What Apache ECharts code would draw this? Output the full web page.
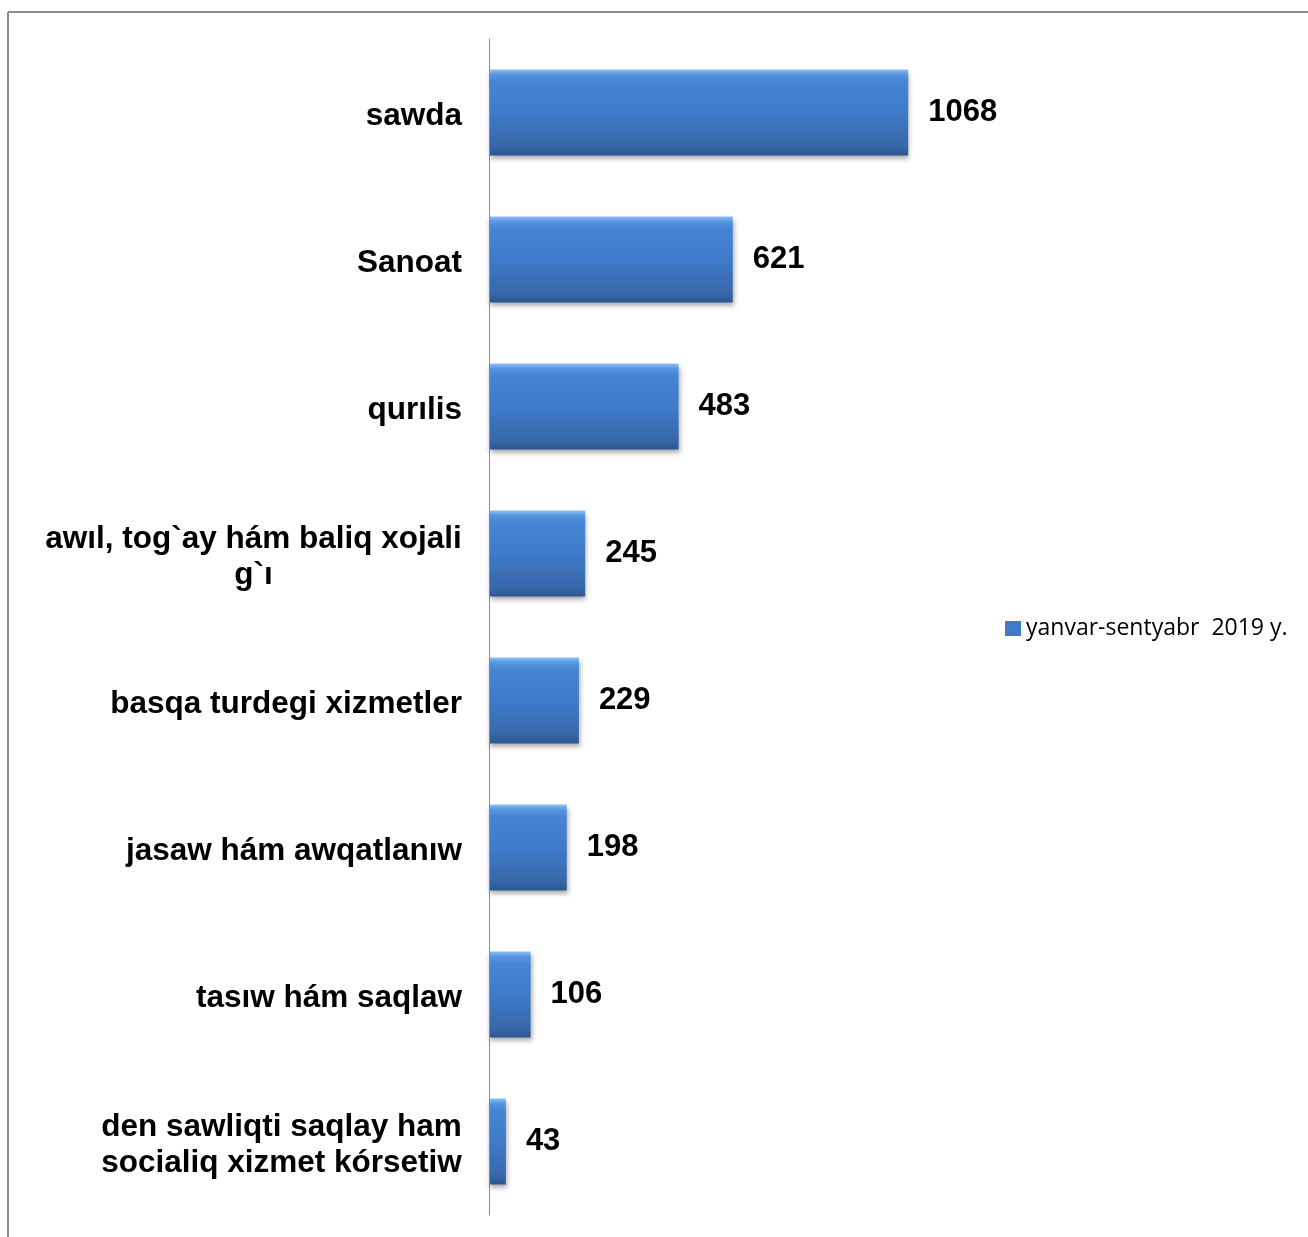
<!DOCTYPE html>
<html>
<head>
<meta charset="utf-8">
<script src="https://cdn.jsdelivr.net/npm/echarts@6/dist/echarts.min.js"></script>
<style>
html,body{margin:0;padding:0;background:#fff;}
#chart{width:1308px;height:1237px;}
</style>
</head>
<body>
<div id="chart"></div>
<script>
var categories = [
  'sawda',
  'Sanoat',
  'qurılis',
  'awıl, tog`ay hám baliq xojali\ng`ı',
  'basqa turdegi xizmetler',
  'jasaw hám awqatlanıw',
  'tasıw hám saqlaw',
  'den sawliqti saqlay ham\nsocialiq xizmet kórsetiw'
];
var values = [1068, 621, 483, 245, 229, 198, 106, 43];
var seriesName = 'yanvar-sentyabr  2019 y.';

var FAMILY = '"Liberation Sans", Arial, sans-serif';
var CAT_SIZE = 31.5;
var ctx = document.createElement('canvas').getContext('2d');
ctx.font = 'bold ' + CAT_SIZE + 'px ' + FAMILY;
function blockWidth(s) {
  var lines = s.split('\n'), w = 0;
  lines.forEach(function (l) { w = Math.max(w, ctx.measureText(l).width); });
  return Math.ceil(w);
}

var chart = echarts.init(document.getElementById('chart'));
var barColor = new echarts.graphic.LinearGradient(0, 0, 0, 1, [
  {offset: 0, color: '#8cc0f5'},
  {offset: 0.06, color: '#5596e0'},
  {offset: 0.14, color: '#4585d4'},
  {offset: 0.5, color: '#3e7bca'},
  {offset: 0.9, color: '#3767a8'},
  {offset: 1, color: '#2c5690'}
]);

var catStyle = {fontFamily: FAMILY, fontWeight: 'bold', fontSize: CAT_SIZE, color: '#000', lineHeight: 36};
var rich = {s: catStyle};
categories.forEach(function (c) {
  if (c.indexOf('\n') >= 0) {
    var w = blockWidth(c);
    rich['c' + w] = Object.assign({}, catStyle, {width: w, align: 'center'});
  }
});

chart.setOption({
  backgroundColor: '#ffffff',
  animation: false,
  graphic: [
    {type: 'line', shape: {x1: 8, y1: 12, x2: 1308, y2: 12}, style: {stroke: '#8c8c8c', lineWidth: 2}},
    {type: 'line', shape: {x1: 8, y1: 12, x2: 8, y2: 1237}, style: {stroke: '#8c8c8c', lineWidth: 2}}
  ],
  legend: {
    left: 1000,
    top: 612,
    icon: 'rect',
    itemWidth: 16,
    itemHeight: 15,
    itemGap: 9,
    textStyle: {fontFamily: '"Open Sans", Lato, sans-serif', fontSize: 23, color: '#000'},
    data: [{name: seriesName, itemStyle: {color: '#3d7ac8'}}]
  },
  grid: {left: 489, top: 39, width: 471, height: 1176, containLabel: false},
  xAxis: {
    type: 'value', min: 0, max: 1200, show: false,
    splitLine: {show: false}
  },
  yAxis: {
    type: 'category',
    inverse: true,
    data: categories,
    axisLine: {show: true, lineStyle: {color: '#8c8c8c', width: 1}},
    axisTick: {show: false},
    axisLabel: {
      margin: 27,
      padding: [8, 0, 0, 0],
      formatter: function (v) {
        if (v.indexOf('\n') < 0) return '{s|' + v + '}';
        var w = blockWidth(v);
        return v.split('\n').map(function (l) { return '{c' + w + '|' + l + '}'; }).join('\n');
      },
      rich: rich
    },
    z: 10
  },
  series: [{
    name: seriesName,
    type: 'bar',
    data: values,
    barWidth: 86,
    itemStyle: {
      color: barColor,
      shadowColor: 'rgba(0,0,0,0.35)',
      shadowBlur: 5,
      shadowOffsetX: 1,
      shadowOffsetY: 3
    },
    label: {
      show: true,
      position: 'right',
      distance: 20,
      color: '#000',
      fontFamily: FAMILY,
      fontWeight: 'bold',
      fontSize: 31
    }
  }]
});
</script>
</body>
</html>
